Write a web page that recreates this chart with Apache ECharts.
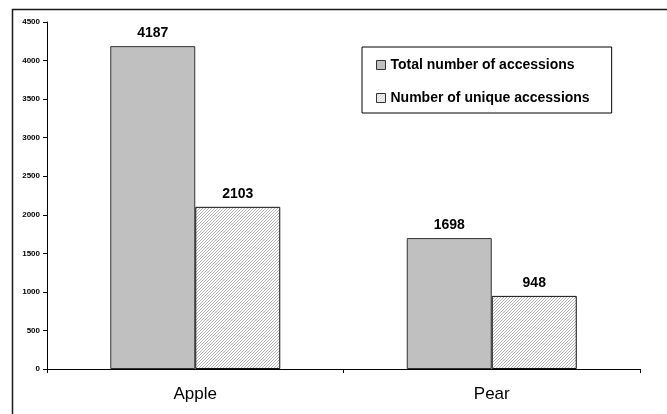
<!DOCTYPE html>
<html>
<head>
<meta charset="utf-8">
<script src="https://cdn.jsdelivr.net/npm/echarts@6/dist/echarts.min.js"></script>
<style>
html,body{margin:0;padding:0;background:#fff;}
#c{width:667px;height:414px;}
</style>
</head>
<body>
<div id="c"></div>
<script>
const categories = ['Apple', 'Pear'];
const totalAccessions = [4187, 1698];
const uniqueAccessions = [2103, 948];
const seriesNames = ['Total number of accessions', 'Number of unique accessions'];
const yMin = 0, yMax = 4500, yStep = 500;

const FONT = 'Arial, "Liberation Sans", sans-serif';

function hatch() {
  const n = 3;
  const c = document.createElement('canvas');
  c.width = n; c.height = n;
  const g = c.getContext('2d');
  g.fillStyle = '#ffffff';
  g.fillRect(0, 0, n, n);
  g.strokeStyle = '#a0a0a0';
  g.lineWidth = 0.8;
  g.beginPath();
  g.moveTo(-1, n + 1); g.lineTo(n + 1, -1);
  g.moveTo(-1, 1); g.lineTo(1, -1);
  g.moveTo(n - 1, n + 1); g.lineTo(n + 1, n - 1);
  g.stroke();
  return c;
}
const pattern = { image: hatch(), repeat: 'repeat' };

const chart = echarts.init(document.getElementById('c'), null, { renderer: 'canvas' });
const labelStyle = { show: true, position: 'top', distance: 6, color: '#000', fontFamily: FONT, fontWeight: 'bold', fontSize: 14 };
chart.setOption({
  animation: false,
  backgroundColor: '#fff',
  graphic: [{
    type: 'rect', left: 10, top: 7, silent: true,
    shape: { width: 720, height: 520 },
    style: { fill: 'none', stroke: '#1a1a1a', lineWidth: 1.5 }
  }],
  grid: { left: 47, right: 27, top: 22, bottom: 45, containLabel: false },
  legend: {
    orient: 'vertical', left: 362, top: 47,
    itemWidth: 9, itemHeight: 9, itemGap: 17,
    padding: [10, 22, 7, 14],
    borderColor: '#000', borderWidth: 1, backgroundColor: '#fff',
    textStyle: { fontFamily: FONT, fontWeight: 'bold', fontSize: 14, color: '#000', lineHeight: 16 },
    data: [
      { name: seriesNames[0], icon: 'rect', itemStyle: { color: '#c0c0c0', borderColor: '#333', borderWidth: 1 } },
      { name: seriesNames[1], icon: 'rect', itemStyle: { color: pattern, borderColor: '#333', borderWidth: 1 } }
    ]
  },
  xAxis: {
    type: 'category', data: categories,
    axisLine: { lineStyle: { color: '#000', width: 1 } },
    axisTick: { show: true, length: 4, lineStyle: { color: '#000' } },
    axisLabel: { fontFamily: FONT, fontSize: 17, color: '#000', margin: 17 }
  },
  yAxis: {
    type: 'value', min: yMin, max: yMax, interval: yStep,
    splitLine: { show: false },
    axisLine: { show: true, lineStyle: { color: '#000', width: 1 } },
    axisTick: { show: true, length: 4, lineStyle: { color: '#000' } },
    axisLabel: { fontFamily: FONT, fontWeight: 'bold', fontSize: 8, color: '#000', margin: 7,
      formatter: function (v) { return String(v); } }
  },
  series: [
    {
      name: seriesNames[0], type: 'bar', data: totalAccessions,
      barWidth: 85, barGap: '0%',
      itemStyle: { color: '#c0c0c0', borderColor: '#333', borderWidth: 1 },
      label: labelStyle
    },
    {
      name: seriesNames[1], type: 'bar', data: uniqueAccessions,
      barWidth: 85, barGap: '0%',
      itemStyle: { color: pattern, borderColor: '#111', borderWidth: 1 },
      label: labelStyle
    }
  ]
});
</script>
</body>
</html>
